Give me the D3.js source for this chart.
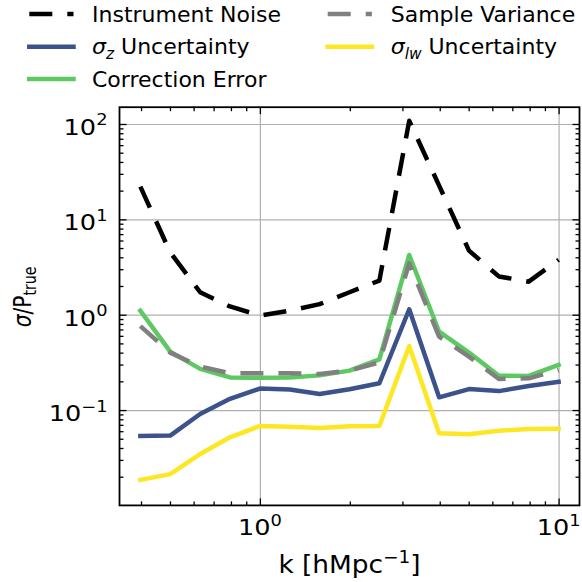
<!DOCTYPE html>
<html><head><meta charset="utf-8">
<script src="https://cdn.jsdelivr.net/npm/d3@7"></script>
<style>
body{margin:0;background:#fff}
svg{display:block}
text{font-family:"DejaVu Sans",sans-serif;fill:#000}
</style>
</head><body>
<svg id="c" width="582" height="582"></svg>
<script>
// ---- data ----
const kValues = [0.398, 0.501, 0.631, 0.794, 1.0, 1.259, 1.585, 1.995, 2.512, 3.162, 3.981, 5.012, 6.310, 7.943, 10.0];
const instrumentNoise = [22, 4.5, 1.72, 1.22, 0.98, 1.10, 1.29, 1.72, 2.28, 108, 22.6, 4.7, 2.52, 2.22, 3.77];
const sigmaZ = [0.0535, 0.054, 0.091, 0.131, 0.168, 0.164, 0.147, 0.165, 0.191, 1.14, 0.136, 0.166, 0.158, 0.179, 0.198];
const correctionError = [1.10, 0.41, 0.27, 0.22, 0.218, 0.22, 0.231, 0.259, 0.34, 4.23, 0.663, 0.40, 0.229, 0.228, 0.297];
const sampleVariance = [0.76, 0.40, 0.285, 0.243, 0.243, 0.243, 0.239, 0.259, 0.316, 3.46, 0.588, 0.363, 0.212, 0.215, 0.263];
const sigmaLW = [0.0185, 0.0213, 0.0346, 0.0518, 0.068, 0.067, 0.0648, 0.0675, 0.068, 0.47, 0.057, 0.0556, 0.0608, 0.0633, 0.0638];
const xTickValues = [1, 10];
const xTickExponents = ["0", "1"];
const yTickValues = [0.1, 1, 10, 100];
const yTickExponents = ["\u22121", "0", "1", "2"];

const W = 582, H = 582;
const L = 119.5, R = 579.5, T = 107.2, B = 505.4;
const x = d3.scaleLog().domain([Math.pow(10, -0.47), Math.pow(10, 1.07)]).range([L, R]);
const y = d3.scaleLog().domain([0.01, 150]).range([B, T]);

const svg = d3.select("#c");
svg.append("rect").attr("width", W).attr("height", H).attr("fill", "#fff");

// ---- grid ----
const grid = svg.append("g");
grid.append("g").attr("transform", `translate(0,${B})`)
  .call(d3.axisBottom(x).tickValues(xTickValues).tickSize(-(B - T)).tickFormat(""));
grid.append("g").attr("transform", `translate(${L},0)`)
  .call(d3.axisLeft(y).tickValues(yTickValues).tickSize(-(R - L)).tickFormat(""));
grid.selectAll(".domain").remove();
grid.selectAll("line").attr("stroke", "#b0b0b0").attr("stroke-width", 1.2);

// ---- series ----
svg.append("clipPath").attr("id", "clip").append("rect")
  .attr("x", L).attr("y", T).attr("width", R - L).attr("height", B - T);
const line = d3.line().x((d, i) => x(kValues[i])).y(d => y(d));
const series = [
  {vals: instrumentNoise, color: "#000000", dash: "23,15"},
  {vals: sigmaZ, color: "#3b528b", dash: null},
  {vals: correctionError, color: "#5ec962", dash: null},
  {vals: sampleVariance, color: "#808080", dash: "23,15"},
  {vals: sigmaLW, color: "#fde725", dash: null}
];
const plotG = svg.append("g").attr("clip-path", "url(#clip)");
series.forEach(s => {
  plotG.append("path").datum(s.vals).attr("d", line)
    .attr("fill", "none").attr("stroke", s.color).attr("stroke-width", 4.5)
    .attr("stroke-linejoin", "round")
    .attr("stroke-linecap", s.dash ? "butt" : "square")
    .attr("stroke-dasharray", s.dash);
});

// ---- ticks (inward, all sides) ----
const xMinor = x.ticks().filter(v => !xTickValues.some(m => Math.abs(m - v) < 1e-9));
const yMinor = y.ticks().filter(v => v > 0.011 && !yTickValues.some(m => Math.abs(m - v) / m < 1e-6));
const tk = svg.append("g");
function addAxis(gen, tr, vals, size) {
  const g = tk.append("g").attr("transform", tr).call(gen.tickValues(vals).tickSize(-size).tickFormat(""));
  g.select(".domain").remove();
}
addAxis(d3.axisBottom(x), `translate(0,${B})`, xTickValues, 7);
addAxis(d3.axisBottom(x), `translate(0,${B})`, xMinor, 4);
addAxis(d3.axisTop(x), `translate(0,${T})`, xTickValues, 7);
addAxis(d3.axisTop(x), `translate(0,${T})`, xMinor, 4);
addAxis(d3.axisLeft(y), `translate(${L},0)`, yTickValues, 7);
addAxis(d3.axisLeft(y), `translate(${L},0)`, yMinor, 4);
addAxis(d3.axisRight(y), `translate(${R},0)`, yTickValues, 7);
addAxis(d3.axisRight(y), `translate(${R},0)`, yMinor, 4);
tk.selectAll("line").attr("stroke", "#000").attr("stroke-width", 1.3);

// frame
svg.append("rect").attr("x", L).attr("y", T).attr("width", R - L).attr("height", B - T)
  .attr("fill", "none").attr("stroke", "#000").attr("stroke-width", 1.8);

// ---- tick labels ----
function powLabel(g, exp) {
  const t = g.append("text").attr("font-size", 21.5);
  t.append("tspan").text("10");
  t.append("tspan").attr("font-size", 15).attr("dy", -9.5).text(exp);
  return t;
}
xTickValues.forEach((v, i) => {
  const g = svg.append("g").attr("transform", `translate(${x(v)},535) scale(1.19,1)`);
  powLabel(g, xTickExponents[i]).attr("text-anchor", "middle");
});
yTickValues.forEach((v, i) => {
  const g = svg.append("g").attr("transform", `translate(107.5,${y(v) + 11}) scale(1.19,1)`);
  powLabel(g, yTickExponents[i]).attr("text-anchor", "end");
});

// ---- axis labels ----
const xl = svg.append("g").attr("transform", `translate(${(L + R) / 2},573) scale(1.1,1)`)
  .append("text").attr("text-anchor", "middle").attr("font-size", 24);
xl.append("tspan").text("k [hMpc");
xl.append("tspan").attr("font-size", 16.8).attr("dy", -10).text("\u22121");
xl.append("tspan").attr("dy", 10).text("]");

const yl = svg.append("g").attr("transform", `translate(30.5,297) rotate(-90) scale(0.84,1)`)
  .append("text").attr("text-anchor", "middle").attr("font-size", 24);
yl.append("tspan").attr("font-style", "italic").text("\u03c3");
yl.append("tspan").text("/P");
yl.append("tspan").attr("font-size", 16.8).attr("dy", 5).text("true");

// ---- legend ----
const legendItems = [
  {s: 0, col: 0, row: 0, label: [["Instrument Noise", null]]},
  {s: 1, col: 0, row: 1, label: [["\u03c3", "i"], ["z", "sub"], [" Uncertainty", "back"]]},
  {s: 2, col: 0, row: 2, label: [["Correction Error", null]]},
  {s: 3, col: 1, row: 0, label: [["Sample Variance", null]]},
  {s: 4, col: 1, row: 1, label: [["\u03c3", "i"], ["lw", "sub"], [" Uncertainty", "back"]]}
];
const colX = [29.3, 327.7];
const textX = [92, 390.7];
const rowY = [14, 46.7, 79];
const lg = svg.append("g");
legendItems.forEach(it => {
  const s = series[it.s];
  const x0 = colX[it.col], yy = rowY[it.row];
  if (s.dash) {
    lg.append("line").attr("x1", x0).attr("x2", x0 + 44.2).attr("y1", yy).attr("y2", yy)
      .attr("stroke", s.color).attr("stroke-width", 4.5).attr("stroke-dasharray", s.dash);
  } else {
    lg.append("line").attr("x1", x0).attr("x2", x0 + 44.2).attr("y1", yy).attr("y2", yy)
      .attr("stroke", s.color).attr("stroke-width", 4.5).attr("stroke-linecap", "square");
  }
  const t = lg.append("text").attr("x", textX[it.col]).attr("y", yy + 7.7).attr("font-size", 22);
  it.label.forEach(([txt, kind]) => {
    const sp = t.append("tspan").text(txt);
    if (kind === "i") sp.attr("font-style", "italic");
    if (kind === "sub") sp.attr("font-style", "italic").attr("font-size", 15.4).attr("dy", 4.5);
    if (kind === "back") sp.attr("dy", -4.5);
  });
});
</script>
</body></html>
